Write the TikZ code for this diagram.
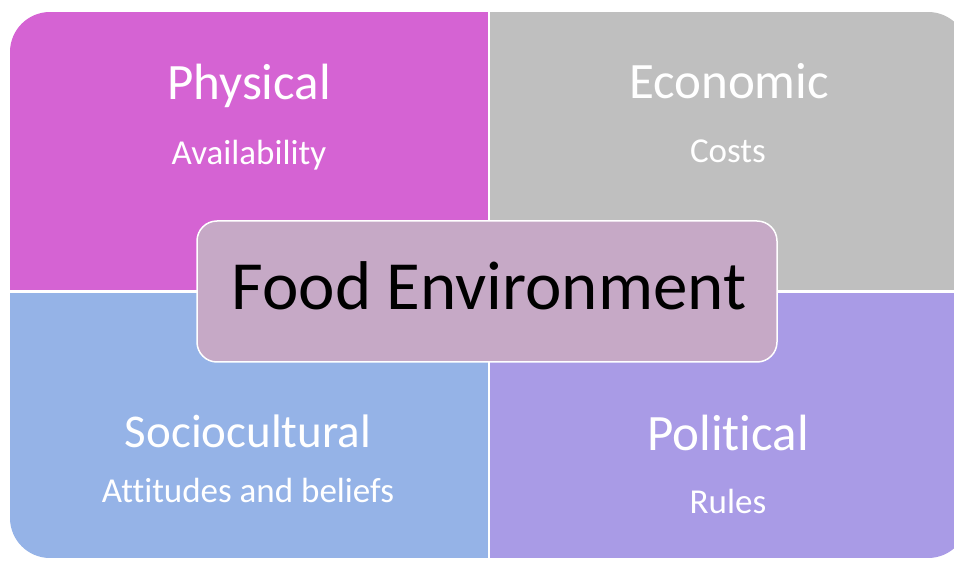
\documentclass[tikz,border=0pt]{standalone}
\usepackage{fontspec}
\setmainfont{Carlito}[Ligatures={NoCommon}]
\definecolor{physcol}{HTML}{D563D3}
\definecolor{econcol}{HTML}{BFBFBF}
\definecolor{sociocol}{HTML}{95B3E7}
\definecolor{policol}{HTML}{A99BE6}
\definecolor{centrecol}{HTML}{C6A9C6}
\tikzset{
  title/.style={anchor=base, text=white, font=\fontsize{51}{60}\selectfont, inner sep=0pt},
  subtitle/.style={anchor=base, text=white, font=\fontsize{35}{42}\selectfont, inner sep=0pt},
  centrebox/.style={draw=white, line width=1.5pt, fill=centrecol, rounded corners=20pt,
    minimum width=580pt, minimum height=141pt, inner sep=0pt},
  centretext/.style={anchor=base, text=black, font=\fontsize{69}{80}\selectfont, inner sep=0pt}
}
\begin{document}
\begin{tikzpicture}[x=1pt, y=-1pt]
  \useasboundingbox (0,0) rectangle (954,561);
  \fill[white] (0,0) rectangle (954,561);
  % four quadrants sharing one rounded outline
  \begin{scope}
    \clip[rounded corners=40pt] (10,12) rectangle (968,558);
    \fill[physcol]  (10,12)   rectangle (487.5,290.5);
    \fill[econcol]  (490,12)  rectangle (968,290.5);
    \fill[sociocol] (10,293)  rectangle (487.5,558);
    \fill[policol]  (490,293) rectangle (968,558);
  \end{scope}
  % quadrant labels
  \node[title]    (phys)  at (249,100) {Physical};
  \node[subtitle] (physs) at (249,165) {Availability};
  \node[title]    (econ)  at (729,99)  {Economic};
  \node[subtitle] (econs) at (728,163) {Costs};
  \node[title, font=\fontsize{47}{56}\selectfont] (socio) at (248,447) {Sociocultural};
  \node[subtitle] (socios) at (248,502) {Attitudes and beliefs};
  \node[title]    (poli)  at (728,450) {Political};
  \node[subtitle] (polis) at (728,513) {Rules};
  % central box
  \node[centrebox] (fe) at (487,291.5) {};
  \node[centretext] (fetext) at (489,310) {Food Environment};
\end{tikzpicture}
\end{document}
